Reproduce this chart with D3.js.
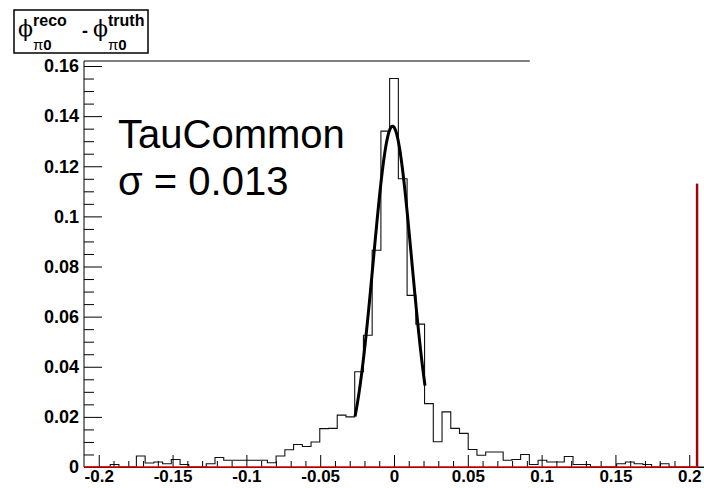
<!DOCTYPE html>
<html><head><meta charset="utf-8">
<script src="https://cdn.jsdelivr.net/npm/d3@7"></script>
<style>body{margin:0;background:#fff}svg{display:block}</style>
</head><body><svg id="c" width="704" height="488"></svg>
<script>
// ---------- data ----------
const histLow = -0.21;
const histHigh = 0.21;
const binValues = [
  0, 0, 0, 0.001, 0, 0, 0.0044, 0.0016, 0.002, 0.0013,
  0.003, 0.001, 0, 0, 0.0013, 0.0038, 0.0027, 0.0027, 0.0027, 0.0027,
  0.0027, 0.0017, 0.0044, 0.0069, 0.009, 0.0082, 0.01, 0.0153, 0.0154, 0.0207,
  0.020, 0.038, 0.0526, 0.0865, 0.134, 0.155, 0.115, 0.0685, 0.057, 0.0253,
  0.0101, 0.022, 0.0154, 0.0134, 0.007, 0.0047, 0.006, 0.006, 0.0027, 0.003,
  0.005, 0.001, 0.0027, 0.002, 0.002, 0.0042, 0.001, 0.001, 0, 0,
  0, 0.0013, 0.002, 0.0013, 0.001, 0, 0.0013, 0, 0, 0,
  0
];
const yMax = 0.162;
const yTickValues = [0, 0.02, 0.04, 0.06, 0.08, 0.1, 0.12, 0.14, 0.16];
const yTickLabels = ["0", "0.02", "0.04", "0.06", "0.08", "0.1", "0.12", "0.14", "0.16"];
const xTickValues = [-0.2, -0.15, -0.1, -0.05, 0, 0.05, 0.1, 0.15, 0.2];
const xTickLabels = ["-0.2", "-0.15", "-0.1", "-0.05", "0", "0.05", "0.1", "0.15", "0.2"];
// Gaussian fit: amplitude, mean, sigma, fitted range
const fitAmp = 0.136, fitMean = -0.001, fitSigma = 0.013;
const fitRange = [-0.0264, 0.021];
// red function line: flat at 0, rising at the right end
const redEndX = 0.2053, redTopY = 0.113;
const frameTopEndX = 0.092;
const annotLines = ["TauCommon", "σ = 0.013"];

// ---------- drawing ----------
const svg = d3.select("#c");
const x = d3.scaleLinear().domain([histLow, histHigh]).range([84, 704]);
const y = d3.scaleLinear().domain([0, yMax]).range([467, 61]);
const nb = binValues.length;
const bw = (histHigh - histLow) / nb;

// frame top line (partially visible)
svg.append("line").attr("x1", x(histLow)).attr("x2", x(frameTopEndX))
  .attr("y1", y(yMax)).attr("y2", y(yMax)).attr("stroke", "#000").attr("stroke-width", 1);

// histogram
const pts = [[histLow, 0]].concat(binValues.map((v, i) => [histLow + i * bw, v]));
pts.push([histHigh, binValues[nb - 1]]);
pts.push([histHigh, 0]);
svg.append("path")
  .attr("d", d3.line().x(d => x(d[0])).y(d => y(d[1])).curve(d3.curveStepAfter)(pts))
  .attr("fill", "none").attr("stroke", "#111").attr("stroke-width", 1.1);

// fit curve
const fitXs = d3.range(0, 201).map(i => fitRange[0] + (fitRange[1] - fitRange[0]) * i / 200);
svg.append("path")
  .attr("d", d3.line().x(d => x(d)).y(d => y(fitAmp * Math.exp(-0.5 * Math.pow((d - fitMean) / fitSigma, 2))))(fitXs))
  .attr("fill", "none").attr("stroke", "#000").attr("stroke-width", 3).attr("stroke-linejoin", "round");

// axes
const fontAxis = "bold 17px 'Liberation Sans', Arial, sans-serif";
const yMinor = d3.range(0, 0.1601, 0.005).filter(v => Math.abs(Math.round(v / 0.02) * 0.02 - v) > 1e-6);
const yAxisMinor = d3.axisLeft(y).tickValues(yMinor).tickSizeInner(-10).tickSizeOuter(0).tickFormat("");
svg.append("g").attr("transform", "translate(84,0)").call(yAxisMinor)
  .call(g => g.select(".domain").remove());
const yAxis = d3.axisLeft(y).tickValues(yTickValues).tickSizeInner(-18).tickSizeOuter(0).tickPadding(5)
  .tickFormat((d, i) => yTickLabels[i]);
const gy = svg.append("g").attr("transform", "translate(84,0)").call(yAxis);
gy.select(".domain").attr("d", `M0,${y(0)}V${y(yMax)}`);
gy.selectAll("text").style("font", "bold 18px 'Liberation Sans', Arial, sans-serif").attr("fill", "#000");

const xMinor = d3.range(-0.2, 0.2001, 0.01).filter(v => Math.abs(Math.round(v / 0.05) * 0.05 - v) > 1e-6);
const xAxisMinor = d3.axisBottom(x).tickValues(xMinor).tickSizeInner(-6).tickSizeOuter(0).tickFormat("");
svg.append("g").attr("transform", `translate(0,${y(0)})`).call(xAxisMinor)
  .call(g => g.select(".domain").remove());
const xAxis = d3.axisBottom(x).tickValues(xTickValues).tickSizeInner(-12).tickSizeOuter(0).tickPadding(3)
  .tickFormat((d, i) => xTickLabels[i]);
const gx = svg.append("g").attr("transform", `translate(0,${y(0)})`).call(xAxis);
gx.selectAll("text").style("font", fontAxis).attr("fill", "#000");
svg.selectAll(".tick line").attr("stroke", "#000");

// red function (dark underlay where it meets the frame edge)
const redPts = [[histLow, 0], [redEndX, 0], [redEndX, redTopY]];
svg.append("path")
  .attr("d", d3.line().x(d => x(d[0])).y(d => y(d[1]))(redPts.slice(1)))
  .attr("fill", "none").attr("stroke", "#3a0000").attr("stroke-width", 2.4);
svg.append("path")
  .attr("d", d3.line().x(d => x(d[0])).y(d => y(d[1]))(redPts))
  .attr("fill", "none").attr("stroke", "#e00000").attr("stroke-width", 1.4);

// annotation
const ann = svg.append("g").style("font", "40px 'Liberation Sans', Arial, sans-serif");
ann.append("text").attr("x", 118).attr("y", 148).text(annotLines[0]);
ann.append("text").attr("x", 118).attr("y", 195).text(annotLines[1]);

// title box
const tg = svg.append("g");
tg.append("rect").attr("x", 14).attr("y", 10).attr("width", 134).attr("height", 43)
  .attr("fill", "#fff").attr("stroke", "#000").attr("stroke-width", 1.5);
const phiFont = "22px 'DejaVu Serif', 'Liberation Serif', serif";
const supFont = "bold 16px 'Liberation Sans', Arial, sans-serif";
const subFont = "15px 'Liberation Sans', Arial, sans-serif";
function titleTerm(x0, sup) {
  tg.append("text").attr("x", x0).attr("y", 36).style("font", phiFont).text("ϕ");
  tg.append("text").attr("x", x0 + 15).attr("y", 26).style("font", supFont).text(sup);
  const t = tg.append("text").attr("x", x0 + 15).attr("y", 50);
  t.append("tspan").style("font", subFont).text("π");
  t.append("tspan").style("font", "bold 15px 'Liberation Sans', Arial, sans-serif").text("0");
}
titleTerm(18, "reco");
tg.append("text").attr("x", 82).attr("y", 37).style("font", "bold 18px 'Liberation Sans', Arial, sans-serif").text("-");
titleTerm(93, "truth");
</script>
</body></html>
